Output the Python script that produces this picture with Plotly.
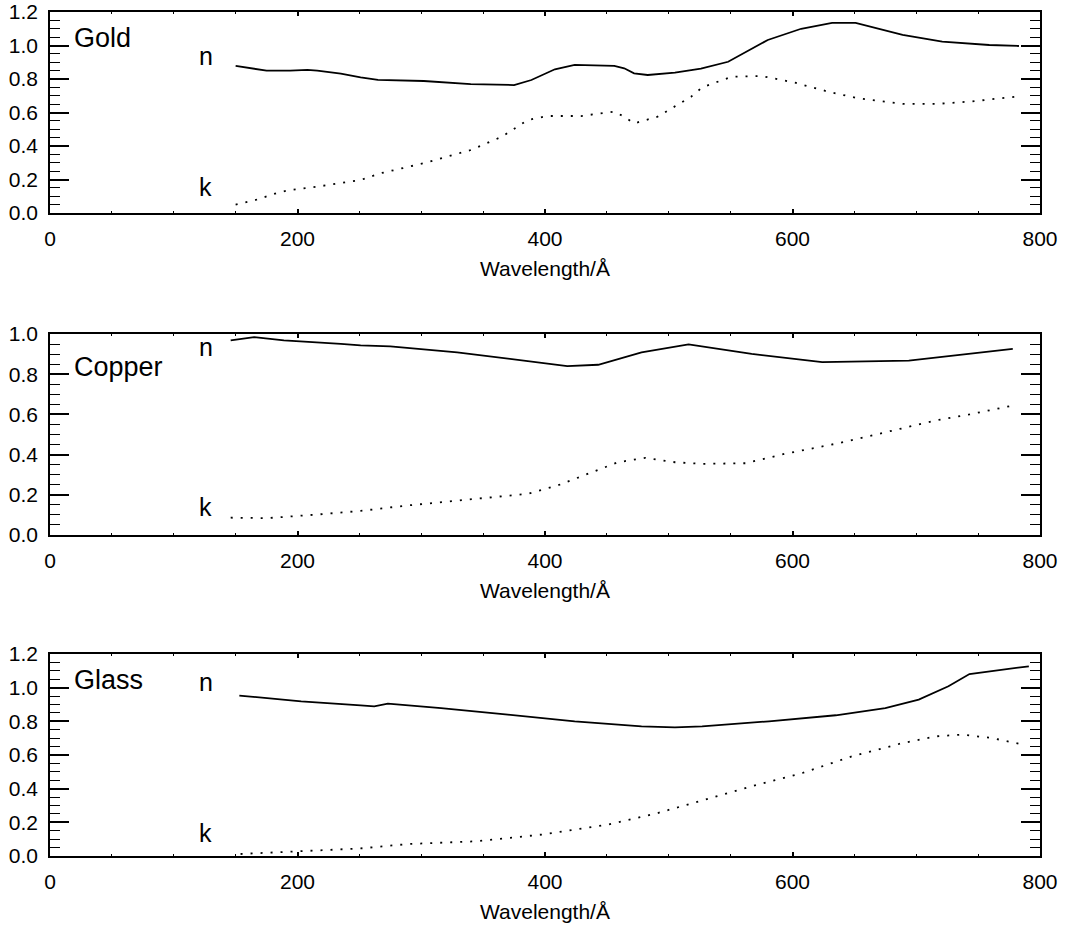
import plotly.graph_objects as go

# ---------------- data ----------------
gold_n_wl = [150, 175, 194, 208, 216, 235, 251, 265, 302, 340, 375, 389, 408, 424, 456, 464, 472, 483, 505, 526, 548, 580, 607, 632, 651, 689, 721, 759, 783]
gold_n = [0.878, 0.850, 0.850, 0.854, 0.850, 0.832, 0.810, 0.795, 0.788, 0.770, 0.764, 0.794, 0.858, 0.884, 0.878, 0.864, 0.834, 0.824, 0.838, 0.862, 0.903, 1.033, 1.100, 1.135, 1.135, 1.063, 1.023, 1.003, 0.997]
gold_k_wl = [150, 165, 184, 194, 216, 235, 251, 267, 302, 340, 365, 386, 402, 429, 456, 464, 472, 491, 518, 527, 551, 575, 602, 629, 653, 689, 716, 743, 780]
gold_k = [0.050, 0.075, 0.121, 0.137, 0.157, 0.181, 0.197, 0.237, 0.297, 0.376, 0.455, 0.555, 0.579, 0.579, 0.605, 0.575, 0.535, 0.575, 0.694, 0.750, 0.814, 0.818, 0.778, 0.724, 0.685, 0.651, 0.651, 0.665, 0.694]

copper_n_wl = [146, 165, 189, 216, 235, 251, 275, 329, 383, 418, 443, 478, 516, 527, 567, 624, 662, 694, 778]
copper_n = [0.968, 0.984, 0.968, 0.959, 0.951, 0.943, 0.938, 0.909, 0.868, 0.840, 0.847, 0.909, 0.948, 0.938, 0.901, 0.860, 0.865, 0.868, 0.926]
copper_k_wl = [146, 176, 216, 251, 289, 343, 386, 410, 438, 459, 481, 505, 527, 562, 594, 635, 675, 716, 743, 778]
copper_k = [0.086, 0.084, 0.102, 0.120, 0.147, 0.180, 0.205, 0.246, 0.312, 0.362, 0.384, 0.362, 0.354, 0.357, 0.404, 0.454, 0.511, 0.570, 0.600, 0.644]

glass_n_wl = [153, 203, 251, 262, 273, 316, 370, 424, 478, 505, 527, 581, 635, 675, 702, 726, 743, 770, 791]
glass_n = [0.953, 0.919, 0.895, 0.889, 0.905, 0.879, 0.840, 0.800, 0.770, 0.764, 0.770, 0.800, 0.836, 0.879, 0.929, 1.008, 1.081, 1.107, 1.127]
glass_k_wl = [154, 203, 251, 289, 343, 397, 451, 491, 527, 567, 608, 648, 689, 716, 737, 761, 786]
glass_k = [0.012, 0.028, 0.045, 0.071, 0.087, 0.127, 0.187, 0.255, 0.330, 0.414, 0.493, 0.592, 0.671, 0.711, 0.721, 0.701, 0.662]

materials = ["Gold", "Copper", "Glass"]
y_max = [1.2, 1.0, 1.2]
x_ticks = [0, 200, 400, 600, 800]
x_title = "Wavelength/Å"
# label positions (data coords): material name, n label, k label
name_pos = [(18, 1.042), (18, 0.836), (18, 1.044)]
n_pos = [(126, 0.940), (126, 0.933), (126, 1.032)]
k_pos = [(126, 0.155), (126, 0.137), (126, 0.138)]

series = [
    (gold_n_wl, gold_n, gold_k_wl, gold_k),
    (copper_n_wl, copper_n, copper_k_wl, copper_k),
    (glass_n_wl, glass_n, glass_k_wl, glass_k),
]

# ---------------- figure ----------------
FONT = "Liberation Sans"
W, H = 1068, 925
ML, MR, MT, MB = 50, 28, 12, 69
plot_h = H - MT - MB
# panel pixel extents (top, bottom)
panels_px = [(12, 213), (334, 535), (654, 856)]
domains = [[(856 - b) / plot_h, (856 - t) / plot_h] for t, b in panels_px]

fig = go.Figure()
layout = dict(
    width=W, height=H,
    margin=dict(l=ML, r=MR, t=MT, b=MB, autoexpand=False),
    paper_bgcolor="white", plot_bgcolor="white",
    showlegend=False,
    font=dict(family=FONT, size=21, color="black"),
)
annotations = []

for i, (nwl, nv, kwl, kv) in enumerate(series):
    idx = "" if i == 0 else str(i + 1)
    xa, ya = "x" + idx, "y" + idx
    fig.add_trace(go.Scatter(x=nwl, y=nv, mode="lines", xaxis=xa, yaxis=ya,
                             line=dict(color="black", width=1.8)))
    fig.add_trace(go.Scatter(x=kwl, y=kv, mode="lines", xaxis=xa, yaxis=ya,
                             line=dict(color="black", width=1.8, dash="2px,8px")))
    layout["xaxis" + idx] = dict(
        domain=[0, 1], anchor=ya, range=[0, 800], automargin=False,
        tickmode="array", tickvals=x_ticks, ticktext=[str(v) for v in x_ticks],
        ticks="inside", ticklen=4, tickwidth=1.5, tickcolor="black",
        minor=dict(ticks="inside", ticklen=2, dtick=50, tickwidth=1.2, tickcolor="black"),
        showline=True, linecolor="black", linewidth=1.6, mirror="allticks",
        showgrid=False, zeroline=False,
        tickfont=dict(family=FONT, size=21, color="black"),
        ticklabelstandoff=6,
    )
    layout["yaxis" + idx] = dict(
        domain=domains[i], anchor=xa, range=[0, y_max[i]], automargin=False,
        tick0=0, dtick=0.2, tickformat=".1f",
        ticks="inside", ticklen=19, tickwidth=1.5, tickcolor="black",
        minor=dict(ticks="inside", ticklen=10, dtick=0.05, tickwidth=1.2, tickcolor="black"),
        showline=True, linecolor="black", linewidth=1.6, mirror="allticks",
        showgrid=False, zeroline=False,
        tickfont=dict(family=FONT, size=21, color="black"),
        ticklabelstandoff=6,
    )
    annotations.append(dict(x=name_pos[i][0], y=name_pos[i][1], xref=xa, yref=ya,
                            text=materials[i], showarrow=False, xanchor="left", yanchor="middle",
                            font=dict(family=FONT, size=27, color="black")))
    annotations.append(dict(x=n_pos[i][0], y=n_pos[i][1], xref=xa, yref=ya,
                            text="n", showarrow=False, xanchor="center", yanchor="middle",
                            font=dict(family=FONT, size=25, color="black")))
    annotations.append(dict(x=k_pos[i][0], y=k_pos[i][1], xref=xa, yref=ya,
                            text="k", showarrow=False, xanchor="center", yanchor="middle",
                            font=dict(family=FONT, size=25, color="black")))
    annotations.append(dict(x=400, y=0, xref=xa, yref=ya + " domain",
                            text=x_title, showarrow=False, xanchor="center", yanchor="middle",
                            yshift=-55, font=dict(family=FONT, size=21, color="black")))

layout["annotations"] = annotations
fig.update_layout(**layout)
fig.write_html("out.html")
